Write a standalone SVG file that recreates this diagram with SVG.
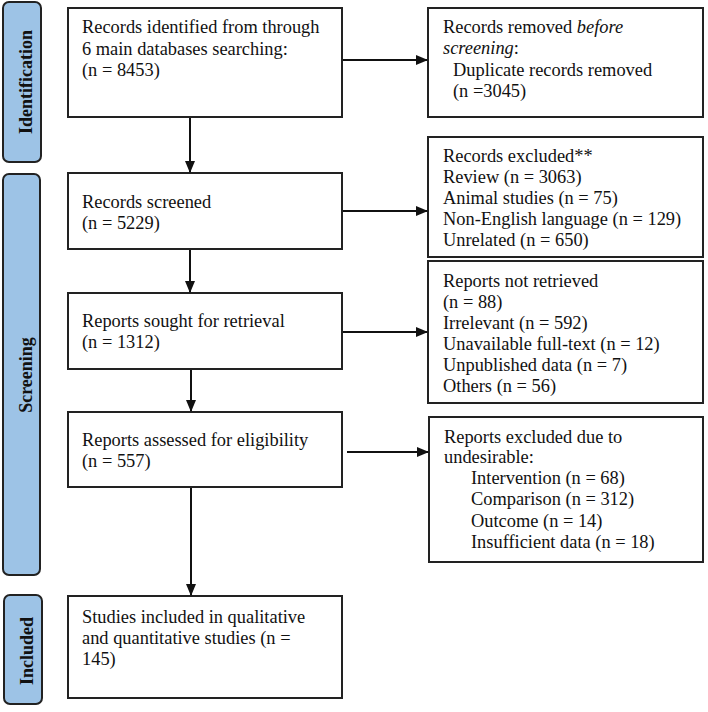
<svg xmlns="http://www.w3.org/2000/svg" width="708" height="712" viewBox="0 0 708 712">
<style>
.box{fill:#fff;stroke:#222;stroke-width:2}
.bar{fill:#9dc3e6;stroke:#222;stroke-width:2}
.t{font-family:"Liberation Serif","Times New Roman",serif;font-size:18.4px;fill:#111}
.lab{font-family:"Liberation Serif","Times New Roman",serif;font-size:18px;font-weight:bold;fill:#111;text-anchor:middle}
.c{stroke:#111;stroke-width:2;fill:none;marker-end:url(#ah)}
</style>
<defs>
<marker id="ah" markerWidth="12" markerHeight="10" refX="11" refY="5" orient="auto" markerUnits="userSpaceOnUse">
<path d="M0,0 L12,5 L0,10 Z" fill="#111"/>
</marker>
</defs>
<rect width="708" height="712" fill="#fff"/>
<g id="bar-identification">
<rect class="bar" x="3" y="2" width="38" height="160" rx="6"/>
<text class="lab" transform="translate(32,82) rotate(-90)">Identification</text>
</g>
<g id="bar-screening">
<rect class="bar" x="3" y="174" width="37" height="401" rx="6"/>
<text class="lab" transform="translate(32,375) rotate(-90)">Screening</text>
</g>
<g id="bar-included">
<rect class="bar" x="4" y="595" width="38" height="109" rx="6"/>
<text class="lab" transform="translate(33,651) rotate(-90)">Included</text>
</g>
<g id="n-identified">
<rect class="box" x="68" y="8" width="274" height="109"/>
<text class="t" x="82" y="33">Records identified from through</text>
<text class="t" x="82" y="55">6 main databases searching:</text>
<text class="t" x="82" y="76">(n = 8453)</text>
</g>
<g id="n-removed">
<rect class="box" x="428" y="8" width="275" height="109"/>
<text class="t" x="443" y="33">Records removed <tspan font-style="italic">before</tspan></text>
<text class="t" x="443" y="54"><tspan font-style="italic">screening</tspan>:</text>
<text class="t" x="453" y="76">Duplicate records removed</text>
<text class="t" x="453" y="97">(n =3045)</text>
</g>
<g id="n-screened">
<rect class="box" x="68" y="173" width="274" height="76"/>
<text class="t" x="82" y="208">Records screened</text>
<text class="t" x="82" y="229">(n = 5229)</text>
</g>
<g id="n-excluded">
<rect class="box" x="428" y="137" width="275" height="120"/>
<text class="t" x="443" y="162">Records excluded**</text>
<text class="t" x="443" y="183">Review (n = 3063)</text>
<text class="t" x="443" y="204">Animal studies (n = 75)</text>
<text class="t" x="443" y="225">Non-English language (n = 129)</text>
<text class="t" x="443" y="246">Unrelated (n = 650)</text>
</g>
<g id="n-sought">
<rect class="box" x="68" y="293" width="274" height="76"/>
<text class="t" x="82" y="327">Reports sought for retrieval</text>
<text class="t" x="82" y="348">(n = 1312)</text>
</g>
<g id="n-notretrieved">
<rect class="box" x="428" y="261" width="275" height="142"/>
<text class="t" x="443" y="287">Reports not retrieved</text>
<text class="t" x="443" y="308">(n = 88)</text>
<text class="t" x="443" y="329">Irrelevant (n = 592)</text>
<text class="t" x="443" y="350">Unavailable full-text (n = 12)</text>
<text class="t" x="443" y="371">Unpublished data (n = 7)</text>
<text class="t" x="443" y="392">Others (n = 56)</text>
</g>
<g id="n-assessed">
<rect class="box" x="68" y="412" width="274" height="75"/>
<text class="t" x="82" y="446">Reports assessed for eligibility</text>
<text class="t" x="82" y="467">(n = 557)</text>
</g>
<g id="n-reportsexcluded">
<rect class="box" x="429" y="417" width="274" height="145"/>
<text class="t" x="444" y="443">Reports excluded due to</text>
<text class="t" x="444" y="463">undesirable:</text>
<text class="t" x="471" y="484">Intervention (n = 68)</text>
<text class="t" x="471" y="505">Comparison (n = 312)</text>
<text class="t" x="471" y="527">Outcome (n = 14)</text>
<text class="t" x="471" y="548">Insufficient data (n = 18)</text>
</g>
<g id="n-included">
<rect class="box" x="68" y="596" width="274" height="102"/>
<text class="t" x="82" y="623">Studies included in qualitative</text>
<text class="t" x="82" y="644">and quantitative studies (n =</text>
<text class="t" x="82" y="665">145)</text>
</g>
<g id="connectors">
<line class="c" x1="343" y1="60" x2="427" y2="60"/>
<line class="c" x1="190" y1="118" x2="190" y2="172"/>
<line class="c" x1="343" y1="211" x2="427" y2="211"/>
<line class="c" x1="190" y1="250" x2="190" y2="292"/>
<line class="c" x1="343" y1="332" x2="427" y2="332"/>
<line class="c" x1="191" y1="370" x2="191" y2="411"/>
<line class="c" x1="347" y1="452" x2="428" y2="452"/>
<line class="c" x1="191" y1="488" x2="191" y2="595"/>
</g>
</svg>
